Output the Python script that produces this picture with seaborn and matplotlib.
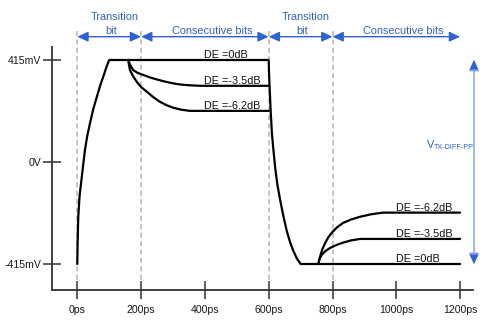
import matplotlib
matplotlib.use("Agg")
import matplotlib.pyplot as plt
from matplotlib.patches import ArrowStyle
import pandas as pd
import seaborn as sns

# ---------------- data (ps, mV) ----------------
rise_t = [0, 1, 3, 7, 14, 24, 31, 40, 50, 61, 71, 81, 91, 100]
rise_v = [-415, -330, -224, -140, -61, 49, 105, 159, 215, 264, 308, 346, 385, 415]

fall_t = [600, 601, 603, 606, 610, 614, 620, 627, 636, 646, 656, 666, 676, 688, 700]
fall_v = [415, 360, 300, 212, 118, 60, -20, -90, -155, -220, -277, -322, -358, -392, -415]

end_t = 1200

up35_t = [160, 165, 175, 190, 207, 228, 249, 275, 300, 325, 353, 385, 600]
up35_v = [415, 396, 374, 362, 354, 344, 336, 327, 320, 315, 312, 310, 310]

up62_t = [160, 162, 165, 175, 186, 200, 218, 238, 259, 280, 300, 325, 353, 600]
up62_v = [415, 395, 374, 349, 327, 305, 286, 264, 245, 231, 221, 213, 208, 208]

lo35_t = [756, 759, 766, 778, 792, 812, 833, 858, 886, 1200]
lo35_v = [-415, -395, -378, -362, -350, -338, -328, -319, -313, -313]

lo62_t = [756, 758, 761, 768, 777, 786, 797, 814, 833, 858, 886, 920, 958, 1200]
lo62_v = [-415, -400, -385, -355, -330, -308, -289, -266, -248, -234, -223, -213, -206, -206]

x_ticks = [0, 200, 400, 600, 800, 1000, 1200]
x_labels = ["0ps", "200ps", "400ps", "600ps", "800ps", "1000ps", "1200ps"]
y_ticks = [-415, 0, 415]
y_labels = ["-415mV", "0V", "415mV"]

boundaries = [0, 200, 600, 800]
span_starts = [0, 200, 600, 800]
span_ends = [200, 600, 800, 1200]

de_upper_labels = ["DE =0dB", "DE =-3.5dB", "DE =-6.2dB"]
de_upper_levels = [415, 310, 208]
de_lower_labels = ["DE =-6.2dB", "DE =-3.5dB", "DE =0dB"]
de_lower_levels = [-206, -313, -415]

# ---------------- build long table ----------------
rows = []
main_t = rise_t + fall_t + [end_t]
main_v = rise_v + fall_v + [-415]
for name, ts, vs in [("main", main_t, main_v),
                     ("up35", up35_t, up35_v),
                     ("up62", up62_t, up62_v),
                     ("lo35", lo35_t, lo35_v),
                     ("lo62", lo62_t, lo62_v)]:
    for t, v in zip(ts, vs):
        rows.append({"segment": name, "time_ps": t, "voltage_mV": v})
df = pd.DataFrame(rows)

# ---------------- figure ----------------
sns.set_style("white")
plt.rcParams["font.family"] = ["Liberation Sans", "DejaVu Sans"]

W, H = 500, 326
fig = plt.figure(figsize=(W / 100, H / 100), dpi=100)

# pixel geometry of the reference axes
px0, px1 = 52, 473          # left / right of axes (px)
py_top, py_bot = 46.7, 290  # top / bottom of axes (px from top)
ax = fig.add_axes([px0 / W, (H - py_bot) / H, (px1 - px0) / W, (py_bot - py_top) / H])

x_per_px = 1 / 0.319
mv_per_px = 830 / 204
ax.set_xlim((px0 - 77.3) * x_per_px, (px1 - 77.3) * x_per_px)
ax.set_ylim((162 - py_bot) * mv_per_px, (162 - py_top) * mv_per_px)

sns.lineplot(data=df, x="time_ps", y="voltage_mV", units="segment",
             estimator=None, sort=False, color="black", linewidth=1.6,
             ax=ax, legend=False, zorder=5)

# dashed boundaries
for b in boundaries:
    ax.plot([b, b], [(162 - 31) * mv_per_px, (162 - 281) * mv_per_px],
            color="#b4b4b4", lw=1.1, ls=(0, (3.3, 2.2)), clip_on=False, zorder=1)

# spines & ticks
for s in ["top", "right"]:
    ax.spines[s].set_visible(False)
for s in ["left", "bottom"]:
    ax.spines[s].set_color("#333333")
    ax.spines[s].set_linewidth(1.3)
ax.set_xticks(x_ticks)
ax.set_xticklabels(x_labels)
ax.set_yticks(y_ticks)
ax.set_yticklabels(y_labels)
ax.tick_params(axis="both", direction="inout", length=13, width=1.1,
               color="#333333", labelsize=7.6, labelcolor="#1a1a1a",
               bottom=True, left=True)
ax.tick_params(axis="y", pad=1)
ax.tick_params(axis="x", pad=4)
ax.set_xlabel("")
ax.set_ylabel("")

# DE labels
for lab, lev in zip(de_upper_labels, de_upper_levels):
    ax.text(397, lev + 7, lab, ha="left", va="baseline", fontsize=7.8, color="#111111", zorder=6)
for lab, lev in zip(de_lower_labels, de_lower_levels):
    ax.text(1000, lev + 7, lab, ha="left", va="baseline", fontsize=7.8, color="#111111", zorder=6)

# blue annotations
blue = "#3060d8"
arrow_y = (162 - 36.7) * mv_per_px
style = ArrowStyle("<|-|>", head_length=0.65, head_width=0.3)
for a, b in zip(span_starts, span_ends):
    ax.annotate("", xy=(b, arrow_y), xytext=(a, arrow_y),
                arrowprops=dict(arrowstyle=style, color=blue, lw=1.0,
                                shrinkA=0, shrinkB=0, mutation_scale=10),
                annotation_clip=False)

ty1 = (162 - 17) * mv_per_px
ty2 = (162 - 30.7) * mv_per_px
for cx, lab in [(118, "Transition"), (716, "Transition")]:
    ax.text(cx, ty1, lab, ha="center", va="center", fontsize=7.8, color=blue, clip_on=False)
for cx, lab in [(107, "bit"), (706, "bit")]:
    ax.text(cx, ty2, lab, ha="center", va="center", fontsize=7.8, color=blue, clip_on=False)
for cx in [424, 1022]:
    ax.text(cx, ty2, "Consecutive bits", ha="center", va="center", fontsize=7.8,
            color=blue, clip_on=False)

# vertical amplitude arrow
vx = (474 - 77.3) * x_per_px
ax.annotate("", xy=(vx, 415), xytext=(vx, -415),
            arrowprops=dict(arrowstyle=style, color="#7f9ae6", lw=1.0,
                            shrinkA=0, shrinkB=0, mutation_scale=10),
            annotation_clip=False)
ax.annotate("", xy=(vx, 415), xytext=(vx, 385),
            arrowprops=dict(arrowstyle=ArrowStyle("-|>", head_length=0.65, head_width=0.3),
                            color=blue, lw=0.1, shrinkA=0, shrinkB=0, mutation_scale=10),
            annotation_clip=False)
ax.annotate("", xy=(vx, -415), xytext=(vx, -385),
            arrowprops=dict(arrowstyle=ArrowStyle("-|>", head_length=0.65, head_width=0.3),
                            color=blue, lw=0.1, shrinkA=0, shrinkB=0, mutation_scale=10),
            annotation_clip=False)
vlab_x = (427 - 77.3) * x_per_px
ax.text(vlab_x, (162 - 148) * mv_per_px, "V", ha="left", va="baseline",
        fontsize=7.8, color=blue, clip_on=False)
ax.text((433.5 - 77.3) * x_per_px, (162 - 149) * mv_per_px, "TX-DIFF-PP", ha="left",
        va="baseline", fontsize=5.2, color=blue, clip_on=False)

fig.savefig("out.png", dpi=100)
